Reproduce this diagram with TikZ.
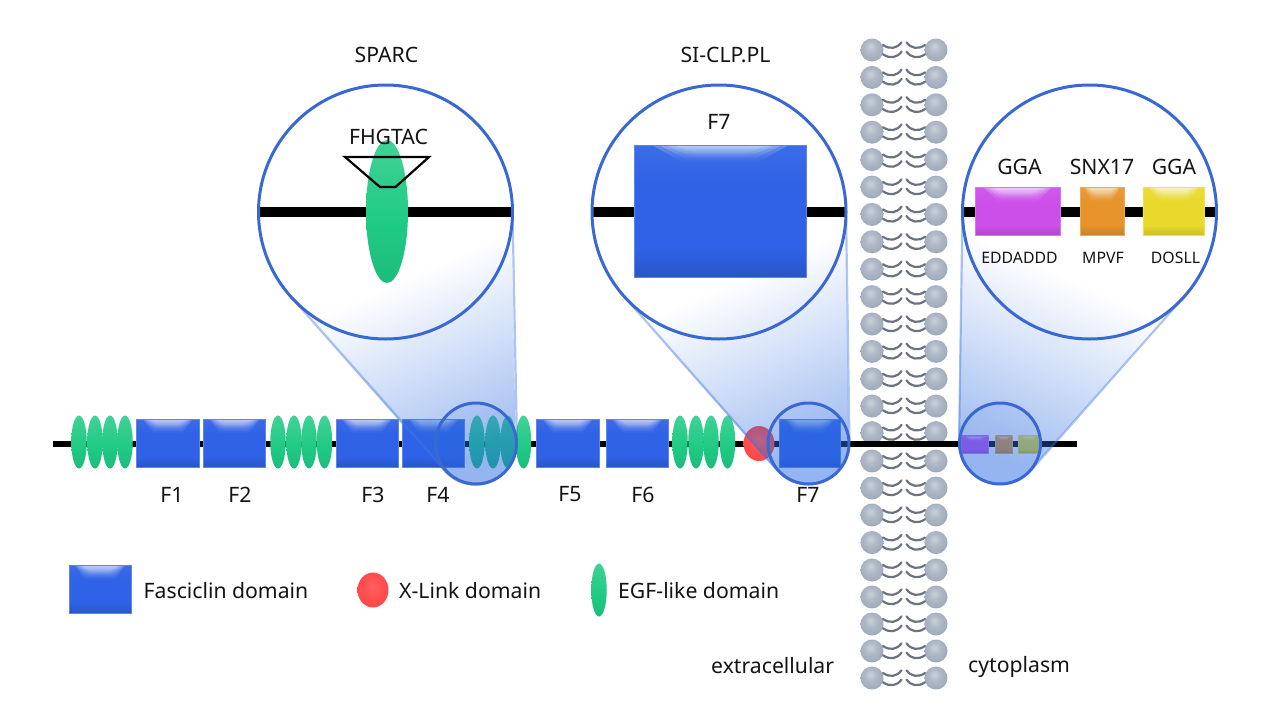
\documentclass[tikz,border=0pt]{standalone}
\usepackage{fontspec}
\setmainfont{Noto Sans}
\usetikzlibrary{calc,fadings,shapes.geometric}

\definecolor{domblue}{HTML}{2F62E6}
\definecolor{lensline}{HTML}{3A68D2}
\definecolor{conetint}{HTML}{2A6BE0}
\definecolor{coneline}{HTML}{3F76E4}
\definecolor{egfgreen}{HTML}{1FCA84}
\definecolor{tailgray}{HTML}{6C737D}
\definecolor{ggapurple}{HTML}{CC4FEA}
\definecolor{snxorange}{HTML}{E6942B}
\definecolor{ggayellow}{HTML}{E9D92C}
\definecolor{headlight}{HTML}{C9D0D9}
\definecolor{headmid}{HTML}{AEB8C6}
\definecolor{headedge}{HTML}{9CA7B6}

% glossy box: darker at the foot, slightly lighter at the top
\pgfdeclareverticalshading[glossbase]{glossfill}{100bp}{
  color(0bp)=(glossbase!86!black);
  color(25bp)=(glossbase!86!black);
  color(36bp)=(glossbase);
  color(60bp)=(glossbase);
  color(75bp)=(glossbase!94!white);
  color(100bp)=(glossbase!94!white)}
\pgfdeclareverticalshading{egffill}{100bp}{
  color(0bp)=(egfgreen!93!black);
  color(25bp)=(egfgreen!93!black);
  color(45bp)=(egfgreen);
  color(62bp)=(egfgreen!92!white);
  color(75bp)=(egfgreen!84!white);
  color(100bp)=(egfgreen!84!white)}
\pgfdeclareradialshading{headfill}{\pgfpoint{-4bp}{8bp}}{
  color(0bp)=(headlight);
  color(14bp)=(headmid);
  color(30bp)=(headedge);
  color(50bp)=(headedge)}
\pgfdeclareradialshading{redfill}{\pgfpoint{0bp}{6bp}}{
  color(0bp)=(red!62!white);
  color(18bp)=(red!70!white);
  color(30bp)=(red!72!white);
  color(50bp)=(red!72!white)}

% the middle colour has to follow top and bottom, which reset it
\tikzfading[name=conefade, top color=transparent!100, bottom color=transparent!55, middle color=transparent!100]
\tikzfading[name=glowfade, top color=transparent!76, bottom color=transparent!100]

\newcommand{\glossdepth}{.3}
\tikzset{
  gloss depth/.code={\renewcommand{\glossdepth}{#1}},
  glossbox/.style={
    /utils/exec={\colorlet{glossbase}{#1}},
    rectangle, inner sep=0pt, draw=#1!78!white, line width=.5pt,
    shading=glossfill,
    path picture={
      \path (path picture bounding box.north west) coordinate (gnw)
            (path picture bounding box.north east) coordinate (gne)
            (path picture bounding box.south west) coordinate (gsw);
      % nested layers give the highlight a soft rim
      \foreach \a/\b/\f in {.10/.28/1,.14/.31/.85,.18/.34/.7,.22/.37/.55}{
        \pgfmathsetmacro{\hh}{\glossdepth*\f}
        \pgfmathsetmacro{\wa}{1-\a}
        \pgfmathsetmacro{\wb}{\b-\hh}
        \pgfmathsetmacro{\wc}{1-\b}
        \pgfmathsetmacro{\wd}{1-\b-\hh}
        \fill[white, path fading=glowfade]
          (barycentric cs:gnw=\wa,gne=\a,gsw=0) --
          (barycentric cs:gnw=\a,gne=\wa,gsw=0) --
          (barycentric cs:gnw=\wb,gne=\wc,gsw=\hh) --
          (barycentric cs:gnw=\wd,gne=\b,gsw=\hh) -- cycle;
      }
    }},
  egf/.style={ellipse, inner sep=0pt, minimum width=15.5pt, minimum height=53pt, shading=egffill},
  redball/.style={ellipse, inner sep=0pt, minimum width=31pt, minimum height=35pt, shading=redfill},
  head/.style={circle, inner sep=0pt, minimum size=23pt, shading=headfill},
  lens/.style={circle, inner sep=0pt, minimum size=254pt, draw=lensline, line width=3pt},
  peephole/.style={circle, inner sep=0pt, minimum size=81pt, draw=lensline, line width=3pt, fill=conetint, fill opacity=.08},
  cone/.style={fill=conetint, path fading=conefade, fit fading=true},
  coneedge/.style={draw=coneline, line width=2.2pt, opacity=.42},
  track/.style={line width=6pt, black},
  lensbar/.style={line width=10pt, black},
  tail/.style={draw=tailgray, line width=2.2pt, line cap=round},
  txt/.style={inner sep=0pt, font=\fontsize{21.2}{25}\selectfont, text=black!92},
  small/.style={inner sep=0pt, font=\fontsize{15.8}{19}\selectfont, text=black!92},
  % inside a pic the y axis points up again
  pics/lipid/.style={code={
    \node[head] (-l) at (-32,0) {};
    \node[head] (-r) at (32,0) {};
    \foreach \dy in {5, -4.3}{
      \draw[tail] (-21,\dy) .. controls (-14,\dy-4.8) and (-7,\dy-3.5) .. (-2.5,\dy+2.7);
      \draw[tail] (21,\dy) .. controls (14,\dy-4.8) and (7,\dy-3.5) .. (2.5,\dy+2.7);
    }
  }}
}

\begin{document}
\begin{tikzpicture}[x=1pt,y=1pt,yscale=-1]
\useasboundingbox (0,0) rectangle (1267,726);
\fill[white] (0,0) rectangle (1267,726);

% lipid bilayer
\foreach \yy in {50,77.4,104.8,132.2,159.6,187,214.4,241.8,269.2,296.6,324,351.4,378.8,406,432.6,461,488,515,542.5,570,597,624,651,678}
  \pic at (904,\yy) {lipid};

% protein backbone
\coordinate (trackstart) at (53,443.5);
\coordinate (trackend) at (1077,443.5);
\draw[track] (trackstart) -- (trackend);

% EGF-like repeats along the chain
\foreach \xx [count=\i] in {79,95,110,125,278,294,309,324.5,477,493,508,523.5,680,696,711,727.5}
  \node[egf] (egf\i) at (\xx,442) {};

% fasciclin domains
\foreach \nm/\xa/\xb in {f1/136.7/199,f2/203.3/265.7,f3/336/398,f4/402.3/464.7,f5/536.3/599,f6/606/668.5,f7/779.3/840.3}
  \node[glossbox=domblue, minimum width={(\xb-\xa)*1pt}, minimum height=48pt] (\nm) at ({(\xa+\xb)/2},443) {};

\node[redball] (xlink) at (759,443.5) {};

% sorting motifs on the cytoplasmic tail
\node[glossbox=ggapurple, minimum width=27pt, minimum height=17pt] (mota) at (975.2,444.3) {};
\node[glossbox=snxorange, minimum width=16.5pt, minimum height=17pt] (motb) at (1003.8,444.3) {};
\node[glossbox=ggayellow, minimum width=20pt, minimum height=17pt] (motc) at (1028.7,444.3) {};

% magnification cones: big circle and small circle joined by their outer tangents
\coordinate (sparcbig) at (385.5,212);  \coordinate (sparcsmall) at (476,443.5);
\coordinate (clpbig)   at (719,212);    \coordinate (clpsmall)   at (808.5,443.5);
\coordinate (tailbig)  at (1089.5,212); \coordinate (tailsmall)  at (1000,443.5);

\fill[cone, fading angle=16]
  ($(sparcbig)+(-1.2:127)$) arc[start angle=-1.2, end angle=-221.6, radius=127]
  -- ($(sparcsmall)+(138.4:41)$) arc[start angle=138.4, end angle=-1.2, radius=41] -- cycle;
\fill[cone, fading angle=16]
  ($(clpbig)+(-0.7:127)$) arc[start angle=-0.7, end angle=-221.5, radius=127]
  -- ($(clpsmall)+(138.5:41)$) arc[start angle=138.5, end angle=-0.7, radius=41] -- cycle;
\fill[cone, fading angle=-16]
  ($(tailbig)+(180.7:127)$) arc[start angle=180.7, end angle=401.5, radius=127]
  -- ($(tailsmall)+(41.5:41)$) arc[start angle=41.5, end angle=180.7, radius=41] -- cycle;

\draw[coneedge] ($(sparcbig)+(-1.2:127)$) -- ($(sparcsmall)+(-1.2:41)$);
\draw[coneedge] ($(sparcbig)+(138.4:127)$) -- ($(sparcsmall)+(138.4:41)$);
\draw[coneedge] ($(clpbig)+(-0.7:127)$) -- ($(clpsmall)+(-0.7:41)$);
\draw[coneedge] ($(clpbig)+(138.5:127)$) -- ($(clpsmall)+(138.5:41)$);
\draw[coneedge] ($(tailbig)+(180.7:127)$) -- ($(tailsmall)+(180.7:41)$);
\draw[coneedge] ($(tailbig)+(41.5:127)$) -- ($(tailsmall)+(41.5:41)$);

\node[peephole] (holea) at (sparcsmall) {};
\node[peephole] (holeb) at (clpsmall) {};
\node[peephole] (holec) at (tailsmall) {};

% contents of the SPARC lens
\coordinate (barAl) at (258,212); \coordinate (barAr) at (513,212);
\draw[lensbar] (barAl) -- (barAr);
\node[egf, minimum width=42pt, minimum height=143pt] (egfbig) at (387,211.5) {};
\node[txt] (fhgtac) at (388.5,137) {FHGTAC};
\coordinate (ta) at (345,157); \coordinate (tb) at (429,157);
\coordinate (tc) at (395.5,187); \coordinate (td) at (380,187);
\draw[black, line width=2.2pt, line join=miter] (ta) -- (tb) -- (tc) -- (td) -- cycle;
\node[lens] (lensa) at (sparcbig) {};

% contents of the SI-CLP.PL lens
\coordinate (barBl) at (592,212); \coordinate (barBr) at (846,212);
\draw[lensbar] (barBl) -- (barBr);
\node[gloss depth=.13, glossbox=domblue, minimum width=171.5pt, minimum height=132pt] (f7big) at (720.3,211) {};
\node[txt] (f7text) at (719,122) {F7};
\node[lens] (lensb) at (clpbig) {};

% contents of the cytoplasmic tail lens
\coordinate (barCl) at (962,212); \coordinate (barCr) at (1217,212);
\draw[lensbar] (barCl) -- (barCr);
\node[gloss depth=.3, glossbox=ggapurple, minimum width=84.7pt, minimum height=48pt] (ggaone) at (1017.7,211.7) {};
\node[glossbox=snxorange, minimum width=44pt, minimum height=48pt] (snx) at (1102,211.7) {};
\node[glossbox=ggayellow, minimum width=61.7pt, minimum height=48pt] (ggatwo) at (1173.8,211.7) {};
\node[txt] (ggaonelab) at (1019.5,167) {GGA};
\node[txt] (snxlab) at (1102,167) {SNX17};
\node[txt] (ggatwolab) at (1174,167) {GGA};
\node[small] (eddlab) at (1019.5,258) {EDDADDD};
\node[small] (mpvlab) at (1103,258) {MPVF};
\node[small] (doslab) at (1175.5,258) {DOSLL};
\node[lens] (lensc) at (tailbig) {};

% titles
\node[txt] (sparclab) at (386.5,55) {SPARC};
\node[txt] (clplab) at (725.5,55) {SI-CLP.PL};

% domain labels
\foreach \nm/\xx in {F1/172,F2/240,F3/373,F4/438,F5/570,F6/643,F7/808}
  \node[txt] (lab\nm) at (\xx,494.5) {\nm};

% legend
\node[glossbox=domblue, minimum width=62pt, minimum height=48pt] (legbox) at (100,589.5) {};
\node[txt, anchor=west] (legboxtxt) at (143.5,590.5) {Fasciclin domain};
\node[redball] (legred) at (373,590) {};
\node[txt, anchor=west] (legredtxt) at (399,590.5) {X-Link domain};
\node[egf] (legegf) at (599,590) {};
\node[txt, anchor=west] (legegftxt) at (618,590.5) {EGF-like domain};

% compartments
\node[txt, anchor=west] (extra) at (711,665.5) {extracellular};
\node[txt, anchor=west] (cyto) at (968,667) {cytoplasm};
\end{tikzpicture}
\end{document}
